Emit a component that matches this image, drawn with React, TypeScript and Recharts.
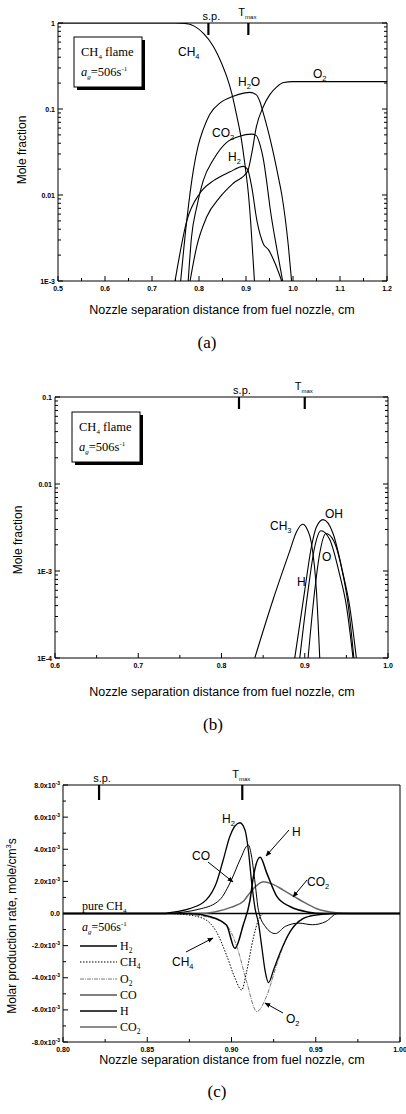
import React from "react";
import { LineChart, Line, XAxis, YAxis, ReferenceLine } from "recharts";

const SANS = "'Liberation Sans', Arial, sans-serif";
const SERIF = "'Liberation Serif', 'Times New Roman', serif";

// ---------- panel (a): major species mole fractions ----------
const aXTicks = [0.5, 0.6, 0.7, 0.8, 0.9, 1.0, 1.1, 1.2];
const aXLabels = ["0.5", "0.6", "0.7", "0.8", "0.9", "1.0", "1.1", "1.2"];
const aXMinor = [0.55, 0.65, 0.75, 0.85, 0.95, 1.05, 1.15];
const aYTicks = [0.001, 0.01, 0.1, 1];
const aYLabels = ["1E-3", "0.01", "0.1", "1"];
const aMarkers = [0.82, 0.905];

const aCH4X = [0.5, 0.6, 0.7, 0.75, 0.77, 0.79, 0.81, 0.83, 0.85, 0.86, 0.87, 0.88, 0.89, 0.9, 0.905, 0.91, 0.915, 0.918];
const aCH4Y = [1, 1, 1, 1, 0.99, 0.92, 0.75, 0.54, 0.32, 0.23, 0.15, 0.085, 0.045, 0.018, 0.0105, 0.0048, 0.0018, 0.001];
const aH2OX = [0.761, 0.774, 0.788, 0.798, 0.809, 0.823, 0.845, 0.873, 0.895, 0.908, 0.922, 0.93, 0.937, 0.95, 0.958, 0.968, 0.976, 0.99, 0.997];
const aH2OY = [0.001, 0.0051, 0.0195, 0.037, 0.058, 0.087, 0.118, 0.141, 0.153, 0.156, 0.146, 0.12, 0.089, 0.048, 0.031, 0.017, 0.0102, 0.0026, 0.001];
const aCO2X = [0.777, 0.784, 0.795, 0.809, 0.831, 0.859, 0.885, 0.912, 0.922, 0.93, 0.937, 0.945, 0.951, 0.966, 0.978];
const aCO2Y = [0.001, 0.0032, 0.0072, 0.0147, 0.026, 0.041, 0.048, 0.051, 0.049, 0.038, 0.026, 0.013, 0.0072, 0.0023, 0.001];
const aH2X = [0.749, 0.774, 0.802, 0.831, 0.866, 0.894, 0.903, 0.912, 0.923, 0.937, 0.948, 0.962, 0.976];
const aH2Y = [0.001, 0.005, 0.0105, 0.0147, 0.0186, 0.0215, 0.02, 0.0126, 0.0051, 0.0027, 0.0023, 0.0016, 0.001];
const aO2X = [0.781, 0.795, 0.816, 0.845, 0.873, 0.903, 0.912, 0.922, 0.937, 0.951, 0.965, 0.98, 1.0, 1.2];
const aO2Y = [0.001, 0.0025, 0.0055, 0.0095, 0.0137, 0.0186, 0.03, 0.062, 0.107, 0.148, 0.18, 0.203, 0.208, 0.208];

// ---------- panel (b): radicals ----------
const bXTicks = [0.6, 0.7, 0.8, 0.9, 1.0];
const bXLabels = ["0.6", "0.7", "0.8", "0.9", "1.0"];
const bXMinor = [0.65, 0.75, 0.85, 0.95];
const bYTicks = [0.0001, 0.001, 0.01, 0.1];
const bYLabels = ["1E-4", "1E-3", "0.01", "0.1"];
const bMarkers = [0.821, 0.9];

const bCH3X = [0.84, 0.862, 0.882, 0.89, 0.8975, 0.903, 0.908, 0.914, 0.918];
const bCH3Y = [0.0001, 0.00047, 0.0017, 0.0028, 0.00344, 0.003, 0.0021, 0.0006, 0.0001];
const bOHX = [0.888, 0.9, 0.908, 0.914, 0.922, 0.934, 0.946, 0.954, 0.962];
const bOHY = [0.0001, 0.0006, 0.0019, 0.0032, 0.0039, 0.0027, 0.00093, 0.00039, 0.0001];
const bHX = [0.894, 0.904, 0.912, 0.9195, 0.93, 0.942, 0.95, 0.958];
const bHY = [0.0001, 0.0006, 0.0019, 0.0029, 0.0023, 0.0009, 0.0004, 0.0001];
const bOX = [0.904, 0.912, 0.918, 0.9255, 0.935, 0.945, 0.952, 0.959];
const bOY = [0.0001, 0.0006, 0.0016, 0.0027, 0.0022, 0.001, 0.00042, 0.0001];

// ---------- panel (c): molar production rates (x10^-3 mole/cm3s) ----------
const cXTicks = [0.8, 0.85, 0.9, 0.95, 1.0];
const cXLabels = ["0.80", "0.85", "0.90", "0.95", "1.00"];
const cXMinor = [0.825, 0.875, 0.925, 0.975];
const cYTicks = [-8, -6, -4, -2, 0, 2, 4, 6, 8];
const cYLabels = ["-8.0", "-6.0", "-4.0", "-2.0", "0.0", "2.0", "4.0", "6.0", "8.0"];
const cYMinor = [-7, -5, -3, -1, 1, 3, 5, 7];
const cMarkers = [0.8214, 0.9064];

const cH2X = [0.8, 0.86, 0.8635, 0.875, 0.885, 0.891, 0.895, 0.899, 0.905, 0.908, 0.91, 0.912, 0.914, 0.916, 0.918, 0.92, 0.922, 0.925, 0.929, 0.935, 0.942, 0.95, 0.96, 1.0];
const cH2Y = [0, 0, 0.05, 0.3, 0.85, 1.9, 3.3, 4.8, 5.65, 5.2, 3.95, 1.9, 0.3, -0.6, -2.1, -3.6, -4.3, -3.5, -2.4, -1.1, -0.35, -0.1, 0, 0];
const cCH4X = [0.8, 0.86, 0.871, 0.883, 0.891, 0.897, 0.902, 0.906, 0.909, 0.913, 0.916, 0.919, 1.0];
const cCH4Y = [0, 0, -0.05, -0.3, -1.13, -2.58, -4.0, -4.76, -3.6, -1.5, -0.4, 0, 0];
const cO2X = [0.8, 0.865, 0.885, 0.897, 0.9035, 0.909, 0.915, 0.921, 0.9268, 0.9328, 0.9407, 0.95, 0.96, 1.0];
const cO2Y = [0, 0, -0.2, -0.72, -2.17, -4.25, -6.1, -5.1, -3.2, -1.5, -0.4, -0.08, 0, 0];
const cCOX = [0.8, 0.86, 0.882, 0.893, 0.9, 0.905, 0.91, 0.912, 0.914, 0.916, 0.92, 0.926, 0.932, 0.94, 0.948, 0.956, 0.963, 1.0];
const cCOY = [0, 0, 0.3, 0.85, 2.1, 3.33, 4.26, 3.5, 1.9, 0.2, -0.8, -1.25, -0.8, -0.6, -0.7, -0.5, 0, 0];
const cHX = [0.8, 0.875, 0.8875, 0.897, 0.902, 0.907, 0.911, 0.913, 0.917, 0.921, 0.927, 0.935, 0.945, 0.955, 1.0];
const cHY = [0, 0, -0.2, -0.72, -2.17, -0.7, 0.84, 2.3, 3.5, 2.5, 1.05, 0.42, 0.1, 0, 0];
const cCO2X = [0.8, 0.88, 0.89, 0.9, 0.9074, 0.911, 0.9189, 0.925, 0.9307, 0.9407, 0.9506, 0.962, 0.97, 1.0];
const cCO2Y = [0, 0, 0.1, 0.4, 0.8, 1.3, 1.98, 1.8, 1.46, 0.84, 0.3, 0.05, 0, 0];

const pts = (xs: number[], ys: number[]) => xs.map((x, i) => ({ x, y: ys[i] }));
const logMinor = (decades: number[]) =>
  decades.flatMap((d) => [2, 3, 4, 5, 6, 7, 8, 9].map((k) => d * k));
const idx = (list: number[], v: number) => list.findIndex((m) => Math.abs(m - v) < 1e-9);

// tick renderers: ticks point inward, labels outside
const bottomTick = (majors: number[], labels: string[]) => (p: any) => {
  const i = idx(majors, p.payload.value);
  return (
    <g>
      <line x1={p.x} x2={p.x} y1={p.y} y2={p.y - (i >= 0 ? 5 : 3)} stroke="#000" />
      {i >= 0 && (
        <text x={p.x} y={p.y + 10} textAnchor="middle" fontSize={7} fontWeight="bold" fontFamily={SANS} fill="#000">
          {labels[i]}
        </text>
      )}
    </g>
  );
};

const leftTick = (majors: number[], label: (i: number) => React.ReactNode) => (p: any) => {
  const i = idx(majors, p.payload.value);
  return (
    <g>
      <line x1={p.x} x2={p.x + (i >= 0 ? 5 : 3)} y1={p.y} y2={p.y} stroke="#000" />
      {i >= 0 && (
        <text x={p.x - 3} y={p.y + 2.5} textAnchor="end" fontSize={7} fontWeight="bold" fontFamily={SANS} fill="#000">
          {label(i)}
        </text>
      )}
    </g>
  );
};

const rightTick = (majors: number[]) => (p: any) => {
  const i = idx(majors, p.payload.value);
  return <line x1={p.x} x2={p.x - (i >= 0 ? 5 : 3)} y1={p.y} y2={p.y} stroke="#000" />;
};

const topTick = (majors: number[]) => (p: any) => {
  const i = idx(majors, p.payload.value);
  return <line x1={p.x} x2={p.x} y1={p.y} y2={p.y + (i >= 0 ? 5 : 3)} stroke="#000" />;
};

// stagnation plane / T max marks hanging from the top frame
const markShape = (which: number, len: number) => (p: any) => {
  const x = p.x1;
  const top = Math.min(p.y1, p.y2);
  return (
    <g>
      <line x1={x} x2={x} y1={top} y2={top + len} stroke="#000" strokeWidth={2.2} />
      {which === 0 ? (
        <text x={x + 3} y={top - 3} textAnchor="middle" fontSize={11} fontFamily={SANS} fill="#000">
          s.p.
        </text>
      ) : (
        <text x={x - 10} y={top - 7} fontSize={11} fontFamily={SANS} fill="#000">
          T<tspan fontSize={6} dy={3}>max</tspan>
        </text>
      )}
    </g>
  );
};

const axisLine = { stroke: "#000", strokeWidth: 1 };

function Sub({ t, s, size = 12 }: { t: string; s: string; size?: number }) {
  return (
    <>
      {t}
      <tspan fontSize={size * 0.62} dy={size * 0.25}>{s}</tspan>
    </>
  );
}

function FlameBox({ x, y }: { x: number; y: number }) {
  return (
    <g fontFamily={SERIF} fill="#000">
      <rect x={x + 3} y={y + 3} width={68} height={50} fill="#000" />
      <rect x={x} y={y} width={68} height={50} fill="#fff" stroke="#000" strokeWidth={1} />
      <text x={x + 7} y={y + 19} fontSize={12.5}>
        CH<tspan fontSize={7} dy={3}>4</tspan>
        <tspan dy={-3}> flame</tspan>
      </text>
      <text x={x + 7} y={y + 39} fontSize={12.5}>
        <tspan fontStyle="italic">a</tspan>
        <tspan fontSize={7} dy={3} fontStyle="italic">g</tspan>
        <tspan dy={-3}>=506s</tspan>
        <tspan fontSize={7} dy={-5}>-1</tspan>
      </text>
    </g>
  );
}

function Arrow({ x1, y1, x2, y2 }: { x1: number; y1: number; x2: number; y2: number }) {
  return <line x1={x1} y1={y1} x2={x2} y2={y2} stroke="#000" strokeWidth={1} markerEnd="url(#arrowHead)" />;
}

const XTITLE = "Nozzle separation distance from fuel nozzle, cm";

export default function App() {
  const lineA = { stroke: "#000", strokeWidth: 1.1, dot: false, type: "monotone" as const, isAnimationActive: false, dataKey: "y" };
  const aYAll = [...aYTicks, ...logMinor([0.001, 0.01, 0.1])];
  const bYAll = [...bYTicks, ...logMinor([0.0001, 0.001, 0.01])];

  return (
    <div style={{ position: "absolute", left: 0, top: 0, width: 406, height: 1114, background: "#fff" }}>
      {/* (a) */}
      <div style={{ position: "absolute", left: 0, top: 0 }}>
        <LineChart width={406} height={330} margin={{ top: 22, right: 18, bottom: 29, left: 13 }}>
          <XAxis dataKey="x" type="number" domain={[0.5, 1.2]} ticks={[...aXTicks, ...aXMinor]} interval={0}
            tickSize={0} tickMargin={0} height={20} axisLine={axisLine} tick={bottomTick(aXTicks, aXLabels)} />
          <XAxis xAxisId="top" orientation="top" dataKey="x" type="number" domain={[0.5, 1.2]}
            ticks={[...aXTicks, ...aXMinor]} interval={0} tickSize={0} tickMargin={0} height={1}
            axisLine={axisLine} tick={topTick(aXTicks)} />
          <YAxis type="number" scale="log" domain={[0.001, 1]} allowDataOverflow ticks={aYAll} interval={0}
            tickSize={0} tickMargin={0} width={45} axisLine={axisLine} tick={leftTick(aYTicks, (i) => aYLabels[i])} />
          <YAxis yAxisId="right" orientation="right" type="number" scale="log" domain={[0.001, 1]} allowDataOverflow
            ticks={aYAll} interval={0} tickSize={0} tickMargin={0} width={1} axisLine={axisLine} tick={rightTick(aYTicks)} />
          {aMarkers.map((m, i) => (
            <ReferenceLine key={m} x={m} shape={markShape(i, 12)} />
          ))}
          <Line {...lineA} data={pts(aCH4X, aCH4Y)} />
          <Line {...lineA} data={pts(aH2OX, aH2OY)} />
          <Line {...lineA} data={pts(aCO2X, aCO2Y)} />
          <Line {...lineA} data={pts(aH2X, aH2Y)} />
          <Line {...lineA} data={pts(aO2X, aO2Y)} />
        </LineChart>
      </div>

      {/* (b) */}
      <div style={{ position: "absolute", left: 0, top: 370 }}>
        <LineChart width={406} height={340} margin={{ top: 26, right: 17, bottom: 32, left: 10 }}>
          <XAxis dataKey="x" type="number" domain={[0.6, 1.0]} ticks={[...bXTicks, ...bXMinor]} interval={0}
            tickSize={0} tickMargin={0} height={20} axisLine={axisLine} tick={bottomTick(bXTicks, bXLabels)} />
          <XAxis xAxisId="top" orientation="top" dataKey="x" type="number" domain={[0.6, 1.0]}
            ticks={[...bXTicks, ...bXMinor]} interval={0} tickSize={0} tickMargin={0} height={1}
            axisLine={axisLine} tick={topTick(bXTicks)} />
          <YAxis type="number" scale="log" domain={[0.0001, 0.1]} allowDataOverflow ticks={bYAll} interval={0}
            tickSize={0} tickMargin={0} width={45} axisLine={axisLine} tick={leftTick(bYTicks, (i) => bYLabels[i])} />
          <YAxis yAxisId="right" orientation="right" type="number" scale="log" domain={[0.0001, 0.1]} allowDataOverflow
            ticks={bYAll} interval={0} tickSize={0} tickMargin={0} width={1} axisLine={axisLine} tick={rightTick(bYTicks)} />
          {bMarkers.map((m, i) => (
            <ReferenceLine key={m} x={m} shape={markShape(i, 12)} />
          ))}
          <Line {...lineA} data={pts(bCH3X, bCH3Y)} />
          <Line {...lineA} data={pts(bOHX, bOHY)} />
          <Line {...lineA} data={pts(bHX, bHY)} />
          <Line {...lineA} data={pts(bOX, bOY)} />
        </LineChart>
      </div>

      {/* (c) */}
      <div style={{ position: "absolute", left: 0, top: 750 }}>
        <LineChart width={406} height={320} margin={{ top: 34, right: 5, bottom: 8, left: 13 }}>
          <XAxis dataKey="x" type="number" domain={[0.8, 1.0]} ticks={[...cXTicks, ...cXMinor]} interval={0}
            tickSize={0} tickMargin={0} height={20} axisLine={axisLine} tick={bottomTick(cXTicks, cXLabels)} />
          <XAxis xAxisId="top" orientation="top" dataKey="x" type="number" domain={[0.8, 1.0]}
            ticks={[...cXTicks, ...cXMinor]} interval={0} tickSize={0} tickMargin={0} height={1}
            axisLine={axisLine} tick={topTick(cXTicks)} />
          <YAxis type="number" domain={[-8, 8]} ticks={[...cYTicks, ...cYMinor]} interval={0}
            tickSize={0} tickMargin={0} width={50} axisLine={axisLine}
            tick={leftTick(cYTicks, (i) =>
              cYTicks[i] === 0 ? cYLabels[i] : (
                <>
                  {cYLabels[i]}x10<tspan fontSize={5} dy={-3}>-3</tspan>
                </>
              )
            )} />
          <YAxis yAxisId="right" orientation="right" type="number" domain={[-8, 8]} ticks={[...cYTicks, ...cYMinor]}
            interval={0} tickSize={0} tickMargin={0} width={1} axisLine={axisLine} tick={rightTick(cYTicks)} />
          {cMarkers.map((m, i) => (
            <ReferenceLine key={m} x={m} shape={markShape(i, 15)} />
          ))}
          <ReferenceLine y={0} stroke="#000" strokeWidth={1.4} />
          <Line type="monotone" dataKey="y" data={pts(cCO2X, cCO2Y)} stroke="#666" strokeWidth={1.5} dot={false} isAnimationActive={false} />
          <Line type="monotone" dataKey="y" data={pts(cO2X, cO2Y)} stroke="#555" strokeWidth={0.8} strokeDasharray="4 1 1 1" dot={false} isAnimationActive={false} />
          <Line type="monotone" dataKey="y" data={pts(cCH4X, cCH4Y)} stroke="#000" strokeWidth={1} strokeDasharray="1.5 1.5" dot={false} isAnimationActive={false} />
          <Line type="monotone" dataKey="y" data={pts(cCOX, cCOY)} stroke="#000" strokeWidth={1} dot={false} isAnimationActive={false} />
          <Line type="monotone" dataKey="y" data={pts(cHX, cHY)} stroke="#000" strokeWidth={1.5} dot={false} isAnimationActive={false} />
          <Line type="monotone" dataKey="y" data={pts(cH2X, cH2Y)} stroke="#000" strokeWidth={1.3} dot={false} isAnimationActive={false} />
        </LineChart>
      </div>

      {/* annotations */}
      <svg width={406} height={1114} style={{ position: "absolute", left: 0, top: 0, pointerEvents: "none" }}>
        <defs>
          <marker id="arrowHead" viewBox="0 0 10 10" refX="9" refY="5" markerWidth="6" markerHeight="6" orient="auto">
            <path d="M0,1 L10,5 L0,9 z" fill="#000" />
          </marker>
        </defs>

        {/* (a) */}
        <FlameBox x={74} y={37} />
        <g fontFamily={SANS} fontSize={12} fill="#000">
          <text x={178} y={56}><Sub t="CH" s="4" /></text>
          <text x={238} y={86}>H<tspan fontSize={7.5} dy={3}>2</tspan><tspan dy={-3}>O</tspan></text>
          <text x={313} y={78}><Sub t="O" s="2" /></text>
          <text x={212} y={137}><Sub t="CO" s="2" /></text>
          <text x={228} y={161}><Sub t="H" s="2" /></text>
          <text x={222} y={314} textAnchor="middle" fontSize={12.5}>{XTITLE}</text>
          <text transform="translate(26,150) rotate(-90)" textAnchor="middle" fontSize={12}>Mole fraction</text>
        </g>
        <text x={207} y={348} textAnchor="middle" fontSize={17} fontFamily={SERIF}>(a)</text>

        {/* (b) */}
        <FlameBox x={72} y={412} />
        <g fontFamily={SANS} fontSize={12} fill="#000">
          <text x={270} y={530}><Sub t="CH" s="3" /></text>
          <text x={325} y={518}>OH</text>
          <text x={322} y={561}>O</text>
          <text x={297} y={586}>H</text>
          <text x={222} y={696} textAnchor="middle" fontSize={12.5}>{XTITLE}</text>
          <text transform="translate(22,540) rotate(-90)" textAnchor="middle" fontSize={12}>Mole fraction</text>
        </g>
        <text x={213} y={730} textAnchor="middle" fontSize={17} fontFamily={SERIF}>(b)</text>

        {/* (c) */}
        <g fontFamily={SANS} fontSize={12} fill="#000">
          <text x={222} y={823}><Sub t="H" s="2" /></text>
          <text x={292} y={836}>H</text>
          <Arrow x1={289} y1={830} x2={266} y2={856} />
          <text x={192} y={860}>CO</text>
          <Arrow x1={208} y1={862} x2={233} y2={882} />
          <text x={307} y={886}><Sub t="CO" s="2" /></text>
          <Arrow x1={307} y1={880} x2={293} y2={897} />
          <text x={172} y={966}><Sub t="CH" s="4" /></text>
          <Arrow x1={186} y1={952} x2={213} y2={938} />
          <text x={286} y={1023}><Sub t="O" s="2" /></text>
          <Arrow x1={283} y1={1013} x2={265} y2={1003} />
          <text x={232} y={1064} textAnchor="middle" fontSize={12.5}>{XTITLE}</text>
          <text transform="translate(16,926) rotate(-90)" textAnchor="middle" fontSize={12}>
            Molar production rate, mole/cm<tspan fontSize={7.5} dy={-5}>3</tspan><tspan dy={5}>s</tspan>
          </text>
        </g>
        <g fontFamily={SERIF} fontSize={12} fill="#000">
          <text x={82} y={910}>pure CH<tspan fontSize={7} dy={3}>4</tspan></text>
          <text x={82} y={931}>
            <tspan fontStyle="italic">a</tspan>
            <tspan fontSize={7} dy={3} fontStyle="italic">g</tspan>
            <tspan dy={-3}>=506s</tspan>
            <tspan fontSize={7} dy={-5}>-1</tspan>
          </text>
          <line x1={80} x2={117} y1={946} y2={946} stroke="#000" strokeWidth={1.3} />
          <text x={120} y={950}><Sub t="H" s="2" /></text>
          <line x1={80} x2={117} y1={962} y2={962} stroke="#000" strokeWidth={1} strokeDasharray="1.5 1.5" />
          <text x={120} y={966}><Sub t="CH" s="4" /></text>
          <line x1={80} x2={117} y1={979} y2={979} stroke="#555" strokeWidth={0.8} strokeDasharray="4 1 1 1" />
          <text x={120} y={983}><Sub t="O" s="2" /></text>
          <line x1={80} x2={117} y1={995} y2={995} stroke="#000" strokeWidth={1} />
          <text x={120} y={999}>CO</text>
          <line x1={80} x2={117} y1={1011} y2={1011} stroke="#000" strokeWidth={1.5} />
          <text x={120} y={1015}>H</text>
          <line x1={80} x2={117} y1={1027} y2={1027} stroke="#666" strokeWidth={1.5} />
          <text x={120} y={1031}><Sub t="CO" s="2" /></text>
        </g>
        <text x={217} y={1097} textAnchor="middle" fontSize={17} fontFamily={SERIF}>(c)</text>
      </svg>
    </div>
  );
}
